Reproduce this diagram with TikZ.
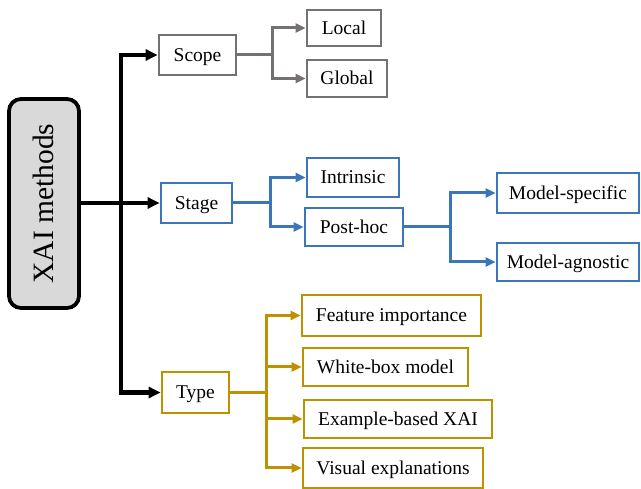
\documentclass[tikz,border=0pt]{standalone}
\usepackage{fontspec}
\setmainfont{Liberation Serif}
\usetikzlibrary{arrows.meta}
\definecolor{cgray}{HTML}{767171}
\definecolor{cblue}{HTML}{3A76B8}
\definecolor{cgold}{HTML}{BF9000}
\definecolor{cfill}{HTML}{D9D9D9}
\tikzset{
  box/.style={draw, line width=2.8pt, inner sep=0pt, font=\fontsize{19.5}{22}\selectfont, fill=white, text height=13pt, text depth=0pt},
  gbox/.style={box, draw=cgray},
  bbox/.style={box, draw=cblue},
  obox/.style={box, draw=cgold},
  cline/.style={line width=3pt},
  carrow/.style={cline, -{Triangle[length=10pt,width=9pt]}},
  kline/.style={line width=4.2pt, black},
  karrow/.style={kline, -{Triangle[length=12pt,width=11pt]}},
}
\begin{document}
\begin{tikzpicture}[x=1pt,y=-1pt]
\useasboundingbox (0,0) rectangle (641,489);
% root
\node[draw=black, line width=3.8pt, fill=cfill, rounded corners=12pt, minimum width=70pt, minimum height=209pt, inner sep=0pt] (xai) at (44,203.5) {};
\node[rotate=90, font=\fontsize{29.5}{33}\selectfont, text height=19.5pt, text depth=0pt] (xait) at (xai.center) {XAI methods};
% level 1
\node[gbox, minimum width=77pt, minimum height=40pt] (scope) at (197.5,55) {Scope};
\node[bbox, minimum width=71pt, minimum height=40pt] (stage) at (196.5,203) {Stage};
\node[obox, minimum width=67pt, minimum height=41pt] (type) at (195.5,392.5) {Type};
% scope children
\node[gbox, minimum width=74pt, minimum height=36pt] (local) at (344,28) {Local};
\node[gbox, minimum width=80pt, minimum height=37pt] (global) at (347,78.5) {Global};
% stage children
\node[bbox, minimum width=92pt, minimum height=39pt] (intrinsic) at (353,177.5) {Intrinsic};
\node[bbox, minimum width=98pt, minimum height=38pt] (posthoc) at (354,227) {Post-hoc};
\node[bbox, minimum width=142pt, minimum height=40pt] (mspec) at (568,193) {Model-specific};
\node[bbox, minimum width=142pt, minimum height=38pt] (magn) at (568,262) {Model-agnostic};
% type children
\node[obox, minimum width=179pt, minimum height=41pt] (feat) at (391.5,315.5) {Feature importance};
\node[obox, minimum width=165pt, minimum height=38pt] (white) at (385.5,367) {White-box model};
\node[obox, minimum width=188pt, minimum height=38pt] (example) at (398,419) {Example-based XAI};
\node[obox, minimum width=180pt, minimum height=40pt] (visual) at (393,468) {Visual explanations};
% trunk
\coordinate (trunk) at (121,203);
\draw[karrow] (xai.east |- stage.west) -- (stage.west);
\draw[karrow] (trunk) |- (scope.west);
\draw[karrow] (trunk) |- (type.west);
% scope branch
\coordinate (sb) at (272,55);
\draw[cline, cgray] (scope.east) -- (sb);
\draw[carrow, cgray] (sb) |- (local.west);
\draw[carrow, cgray] (sb) |- (global.west);
% stage branch
\coordinate (stb) at (270,203);
\draw[cline, cblue] (stage.east) -- (stb);
\draw[carrow, cblue] (stb) |- (intrinsic.west);
\draw[carrow, cblue] (stb) |- (posthoc.west);
% posthoc branch
\coordinate (pb) at (450,227);
\draw[cline, cblue] (posthoc.east) -- (pb);
\draw[carrow, cblue] (pb) |- (mspec.west);
\draw[carrow, cblue] (pb) |- (magn.west);
% type branch
\coordinate (tb) at (266,392.5);
\draw[cline, cgold] (type.east) -- (tb);
\draw[carrow, cgold] (tb) |- (feat.west);
\draw[carrow, cgold] (tb) |- (white.west);
\draw[carrow, cgold] (tb) |- (example.west);
\draw[carrow, cgold] (tb) |- (visual.west);
\end{tikzpicture}
\end{document}
